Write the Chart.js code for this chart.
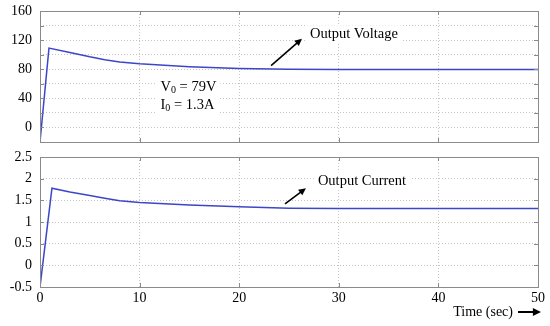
<!DOCTYPE html>
<html>
<head>
<meta charset="utf-8">
<script src="https://cdn.jsdelivr.net/npm/chart.js@4.4.1/dist/chart.umd.min.js"></script>
<style>
html, body { margin: 0; padding: 0; background: #fff; }
#wrap { position: relative; width: 550px; height: 326px; }
canvas { position: absolute; left: 0; }
#top { top: 0; }
#bottom { top: 150px; }
</style>
</head>
<body>
<div id="wrap">
  <canvas id="top" width="550" height="150"></canvas>
  <canvas id="bottom" width="550" height="176"></canvas>
</div>
<script>
// output voltage (V) vs time (sec)
const timeV = [0, 0.9, 3, 5, 6.5, 8, 10, 12.5, 15, 20, 25, 30, 40, 50];
const voltage = [-20, 109, 103, 97, 93, 90, 87.5, 85.5, 83.5, 81, 80, 79.5, 79.5, 79.5];

// output current (A) vs time (sec)
const timeI = [0, 1.2, 3, 5, 6.5, 8, 10, 12.5, 15, 20, 25, 30, 40, 50];
const current = [-0.5, 1.78, 1.69, 1.61, 1.55, 1.49, 1.45, 1.42, 1.39, 1.35, 1.32, 1.31, 1.31, 1.31];

const xTicks = [0, 10, 20, 30, 40, 50];
const vTicks = [-20, 0, 20, 40, 60, 80, 100, 120, 140, 160];
const vLabels = [0, 40, 80, 120, 160];
const iTicks = [-0.5, 0, 0.5, 1, 1.5, 2, 2.5];

const LINE = '#3c46c8';
const FONT = '"Liberation Serif", "Times New Roman", serif';

const toPoints = (xs, ys) => xs.map((t, i) => ({ x: t, y: ys[i] }));

// box around the plot + small inward ticks (matlab look)
const frame = {
  id: 'frame',
  afterDraw(chart) {
    const { ctx, chartArea: a, scales } = chart;
    ctx.save();
    ctx.strokeStyle = '#8a8a8a';
    ctx.lineWidth = 1;
    ctx.beginPath();
    scales.x.ticks.forEach(t => {
      const px = Math.round(scales.x.getPixelForValue(t.value)) + 0.5;
      ctx.moveTo(px, a.bottom); ctx.lineTo(px, a.bottom - 4);
      ctx.moveTo(px, a.top); ctx.lineTo(px, a.top + 4);
    });
    scales.y.ticks.forEach(t => {
      const py = Math.round(scales.y.getPixelForValue(t.value)) + 0.5;
      ctx.moveTo(a.left, py); ctx.lineTo(a.left + 4, py);
      ctx.moveTo(a.right, py); ctx.lineTo(a.right - 4, py);
    });
    ctx.stroke();
    ctx.strokeRect(Math.round(a.left) + 0.5, Math.round(a.top) + 0.5,
      Math.round(a.right - a.left), Math.round(a.bottom - a.top));
    ctx.restore();
  }
};

function arrow(ctx, x1, y1, x2, y2, head, width) {
  const ang = Math.atan2(y2 - y1, x2 - x1);
  ctx.lineWidth = width;
  ctx.beginPath();
  ctx.moveTo(x1, y1);
  ctx.lineTo(x2 - Math.cos(ang) * head * 0.6, y2 - Math.sin(ang) * head * 0.6);
  ctx.stroke();
  ctx.beginPath();
  ctx.moveTo(x2, y2);
  ctx.lineTo(x2 - head * Math.cos(ang - 0.45), y2 - head * Math.sin(ang - 0.45));
  ctx.lineTo(x2 - head * Math.cos(ang + 0.45), y2 - head * Math.sin(ang + 0.45));
  ctx.closePath();
  ctx.fill();
}

// text labels (with white patch) and arrows, placed in data units
const notes = {
  id: 'notes',
  beforeDatasetsDraw(chart, args, opts) {
    const { ctx, scales: { x, y } } = chart;
    ctx.save();
    ctx.textBaseline = 'middle';
    (opts.texts || []).forEach(t => {
      const px = x.getPixelForValue(t.x), py = y.getPixelForValue(t.y);
      let w = 0;
      t.parts.forEach(p => {
        ctx.font = (p.sub ? '10px ' : '14.5px ') + FONT;
        w += ctx.measureText(p.s).width;
      });
      ctx.fillStyle = '#fff';
      ctx.fillRect(px - 4, py - 9, w + 8, 18);
      ctx.fillStyle = '#000';
      let cx = px;
      t.parts.forEach(p => {
        ctx.font = (p.sub ? '10px ' : '14.5px ') + FONT;
        ctx.fillText(p.s, cx, py + (p.sub ? 3 : 0));
        cx += ctx.measureText(p.s).width;
      });
    });
    ctx.strokeStyle = '#000';
    ctx.fillStyle = '#000';
    (opts.arrows || []).forEach(a => {
      arrow(ctx, x.getPixelForValue(a.x1), y.getPixelForValue(a.y1),
        x.getPixelForValue(a.x2), y.getPixelForValue(a.y2), 8, 1.6);
    });
    ctx.restore();
  }
};

// "Time (sec) ->" under the bottom plot
const timeLabel = {
  id: 'timeLabel',
  afterDraw(chart) {
    const { ctx, chartArea: a } = chart;
    ctx.save();
    ctx.font = '14px ' + FONT;
    ctx.fillStyle = '#000';
    ctx.strokeStyle = '#000';
    ctx.textBaseline = 'middle';
    ctx.textAlign = 'right';
    const y = a.bottom + 25;
    ctx.fillText('Time (sec)', a.right - 25, y);
    arrow(ctx, a.right - 20, y, a.right + 3, y, 9, 2);
    ctx.restore();
  }
};

function makeOptions(yMin, yMax, yTicks, yLabel, padding, showX, xHeight) {
  return {
    responsive: false,
    animation: false,
    layout: { padding },
    plugins: { legend: { display: false }, tooltip: { enabled: false } },
    scales: {
      x: {
        type: 'linear', min: 0, max: 50,
        afterBuildTicks: s => { s.ticks = xTicks.map(v => ({ value: v })); },
        afterFit: s => { s.height = xHeight; s.paddingLeft = 0; s.paddingRight = 0; },
        ticks: { display: showX, autoSkip: false, maxRotation: 0, padding: 3, color: '#000', font: { family: FONT, size: 14 } },
        grid: { color: '#c4c4c4', drawTicks: false },
        border: { display: false, dash: [1, 2] }
      },
      y: {
        min: yMin, max: yMax,
        afterBuildTicks: s => { s.ticks = yTicks.map(v => ({ value: v })); },
        afterFit: s => { s.width = 40; s.paddingTop = 0; s.paddingBottom = 0; },
        ticks: { autoSkip: false, padding: 8, color: '#000', font: { family: FONT, size: 14 }, callback: yLabel },
        grid: { color: '#c4c4c4', drawTicks: false },
        border: { display: false, dash: [1, 2] }
      }
    }
  };
}

const topChart = new Chart(document.getElementById('top'), {
  type: 'line',
  data: {
    datasets: [{
      data: toPoints(timeV, voltage),
      borderColor: LINE, borderWidth: 1.5, pointRadius: 0, tension: 0, fill: false
    }]
  },
  options: makeOptions(-20, 160, vTicks, v => vLabels.includes(v) ? v : '',
    { top: 11, right: 12, left: 0, bottom: 8 }, false, 0),
  plugins: [frame, notes]
});
topChart.options.plugins.notes = {
  texts: [
    { x: 27.1, y: 128, parts: [{ s: 'Output Voltage' }] },
    { x: 12.1, y: 54.7, parts: [{ s: 'V' }, { s: '0', sub: true }, { s: ' = 79V' }] },
    { x: 12.1, y: 30.7, parts: [{ s: 'I' }, { s: '0', sub: true }, { s: ' = 1.3A' }] }
  ],
  arrows: [{ x1: 23.2, y1: 85, x2: 26.3, y2: 122 }]
};
topChart.update();

const bottomChart = new Chart(document.getElementById('bottom'), {
  type: 'line',
  data: {
    datasets: [{
      data: toPoints(timeI, current),
      borderColor: LINE, borderWidth: 1.5, pointRadius: 0, tension: 0, fill: false
    }]
  },
  options: makeOptions(-0.5, 2.5, iTicks, v => v, { top: 7, right: 12, left: 0, bottom: 0 }, true, 39),
  plugins: [frame, notes, timeLabel]
});
bottomChart.options.plugins.notes = {
  texts: [{ x: 27.9, y: 1.94, parts: [{ s: 'Output Current' }] }],
  arrows: [{ x1: 24.6, y1: 1.42, x2: 26.7, y2: 1.78 }]
};
bottomChart.update();
</script>
</body>
</html>
